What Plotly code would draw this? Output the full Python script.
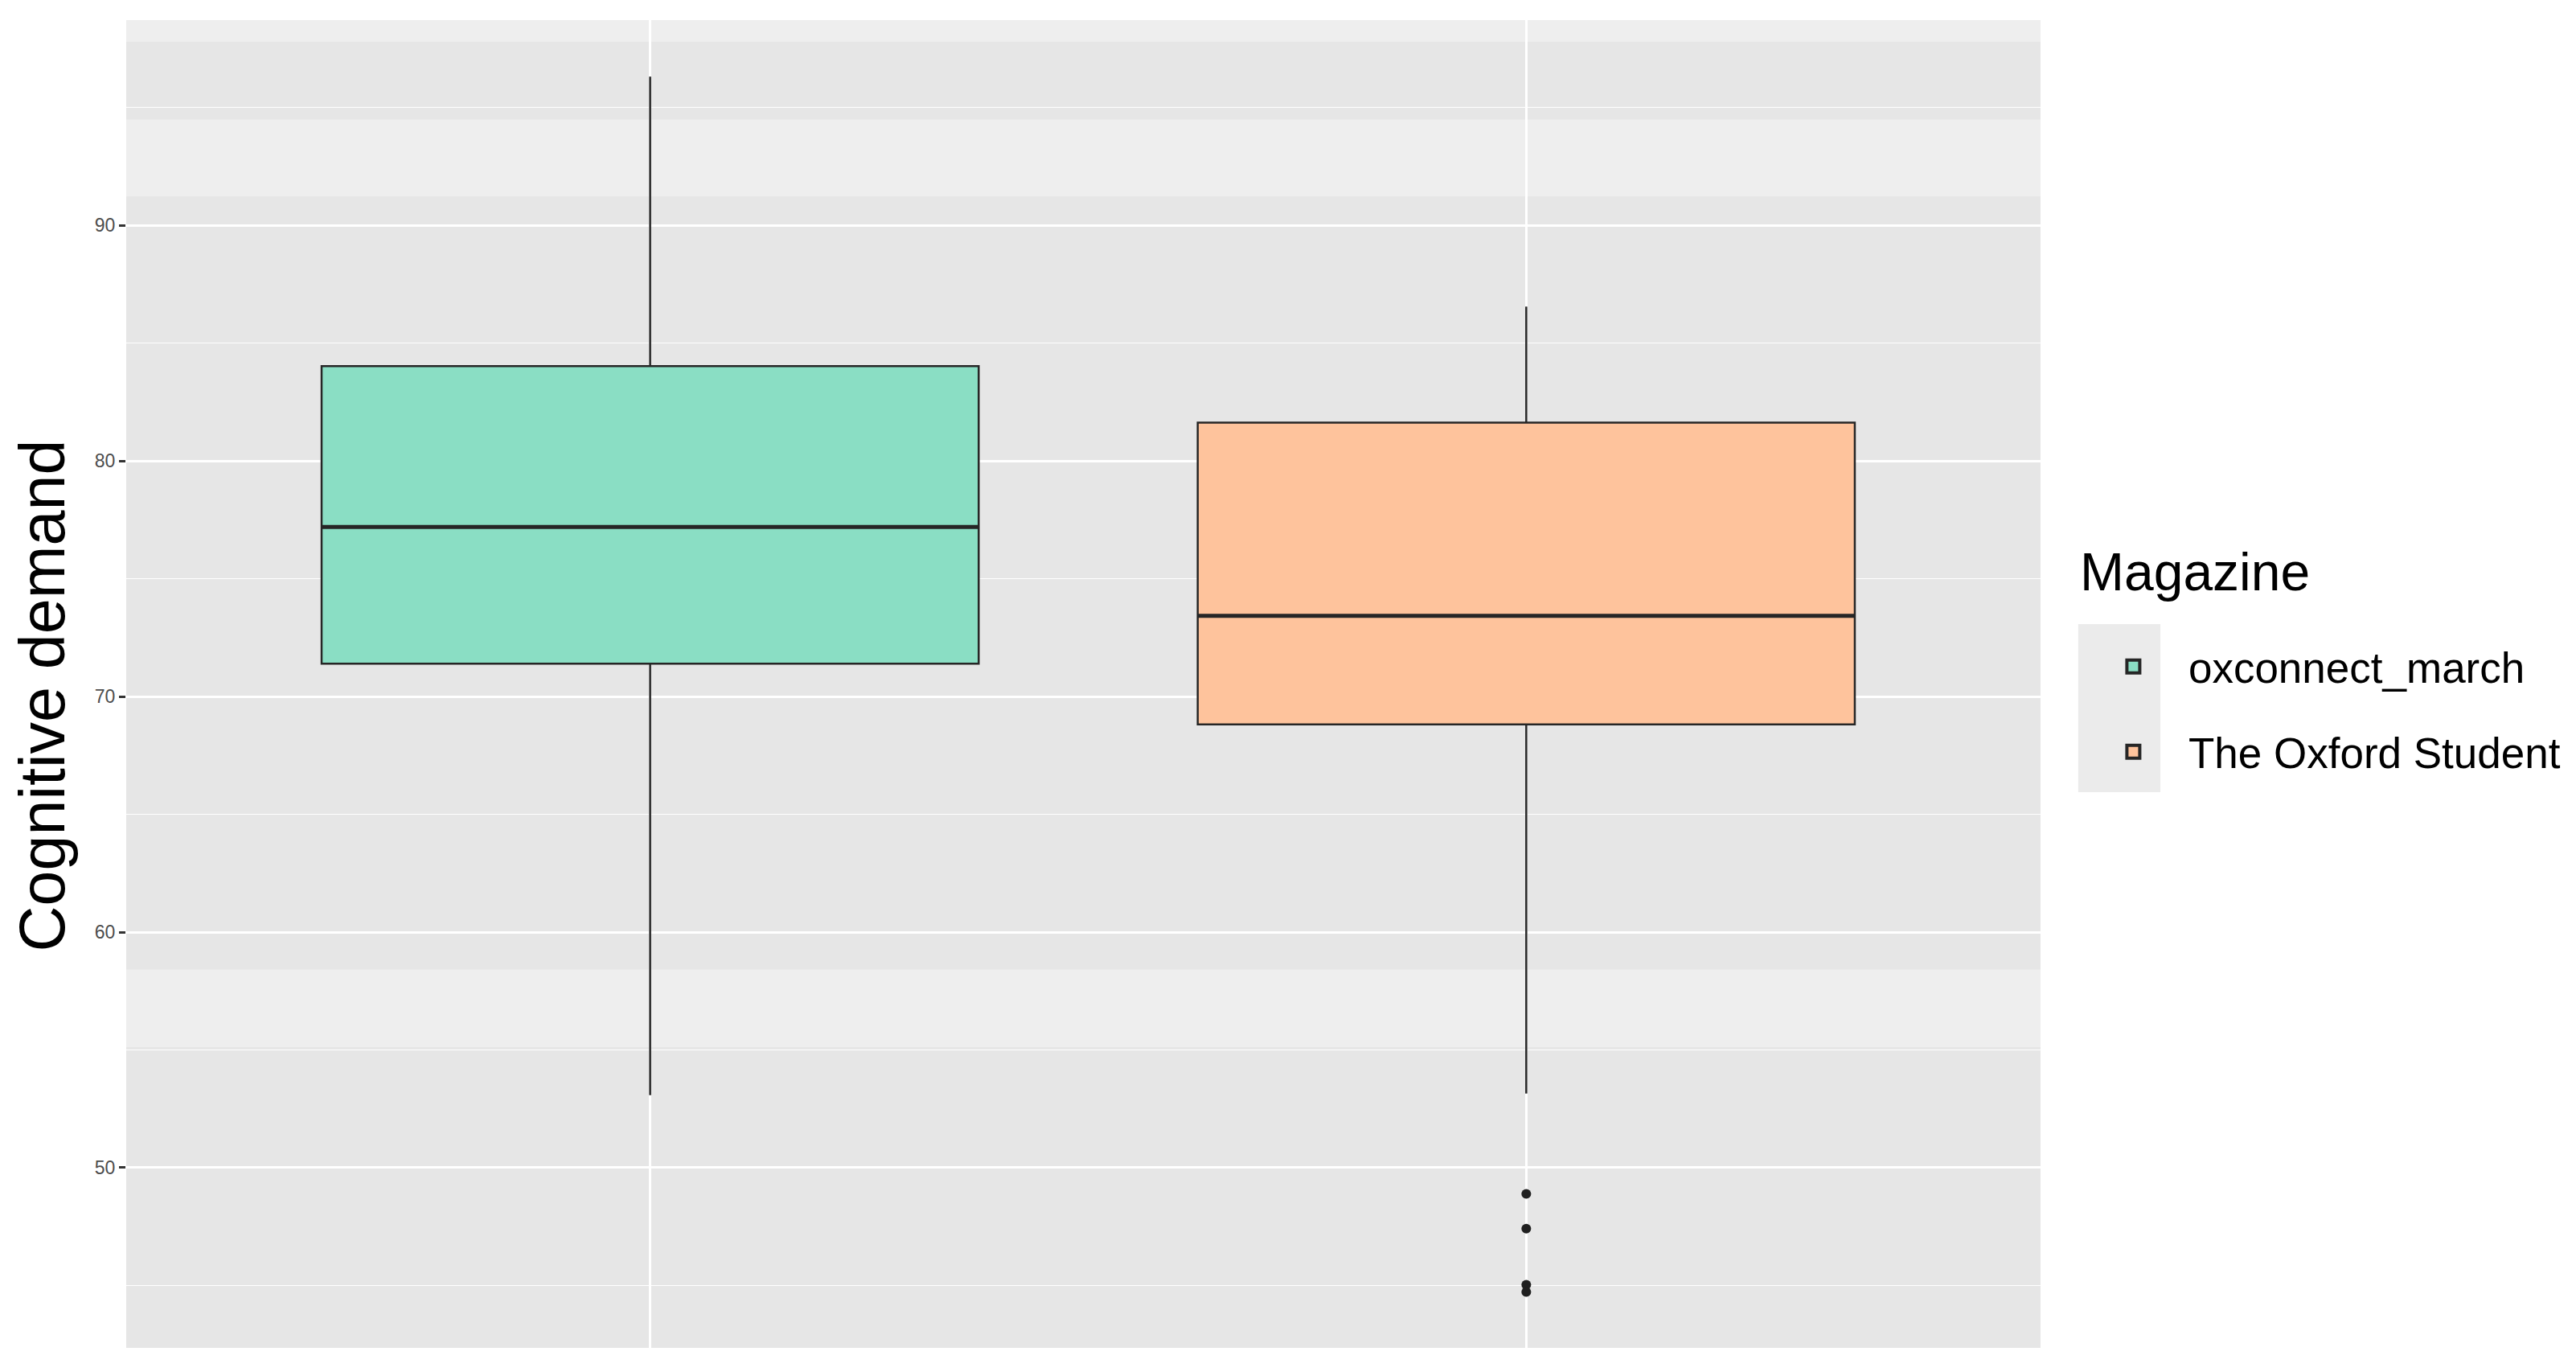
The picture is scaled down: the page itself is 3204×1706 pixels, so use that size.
import plotly.graph_objects as go

# box summary values
magazines = ["oxconnect_march", "The Oxford Student"]
fills = ["#8ADEC4", "#FEC39C"]
lower_whisker = [53.08, 53.15]
q1 = [71.40, 68.82]
median = [77.20, 73.43]
q3 = [84.03, 81.63]
upper_whisker = [96.32, 86.56]

# outliers (The Oxford Student only)
outlier_group = ["The Oxford Student"] * 4
outlier_vals = [48.89, 47.41, 45.03, 44.72]

# lighter highlighted bands in the panel
band_ranges = [(91.23, 94.5), (97.8, 98.8), (55.12, 58.41)]

FONT = "Liberation Sans, Arial, Helvetica, sans-serif"
EDGE = "#262626"

fig = go.Figure()
for i, name in enumerate(magazines):
    fig.add_trace(go.Box(
        x=[name], name=name, legendgroup=name, showlegend=False,
        q1=[q1[i]], median=[median[i]], q3=[q3[i]],
        lowerfence=[lower_whisker[i]], upperfence=[upper_whisker[i]],
        fillcolor=fills[i], line=dict(color=EDGE, width=2.5),
        width=0.75, whiskerwidth=0, boxpoints=False, hoverinfo="skip",
    ))
    # thicker median bar drawn as a flat box on top
    fig.add_trace(go.Box(
        x=[name], q1=[median[i]], median=[median[i]], q3=[median[i]],
        lowerfence=[median[i]], upperfence=[median[i]],
        fillcolor="rgba(0,0,0,0)", line=dict(color=EDGE, width=5),
        width=0.75, whiskerwidth=0, boxpoints=False,
        showlegend=False, hoverinfo="skip",
    ))
    # legend key (larger than plotly's default box icon)
    fig.add_trace(go.Scatter(
        x=[None], y=[None], mode="markers", name=name, legendgroup=name,
        marker=dict(symbol="square", size=34, color=fills[i],
                    line=dict(color=EDGE, width=4)),
    ))

fig.add_trace(go.Scatter(
    x=outlier_group, y=outlier_vals, mode="markers",
    marker=dict(color="#1f1f1f", size=12),
    showlegend=False, hoverinfo="skip",
))

for lo, hi in band_ranges:
    fig.add_hrect(y0=lo, y1=hi, fillcolor="#EEEEEE", line_width=0, layer="below")

# grey key background behind the legend symbols (ggplot style)
fig.add_shape(type="rect", xref="paper", yref="paper",
              x0=1.0197, x1=1.0626, y0=0.4185, y1=0.5451,
              fillcolor="#EBEBEB", line_width=0, layer="below")

# y axis title
fig.add_annotation(
    text="Cognitive demand", textangle=-90, showarrow=False,
    xref="paper", yref="paper", x=-0.0437, y=0.5, xanchor="center", yanchor="middle",
    yshift=-14, font=dict(size=79, color="black"),
)
# legend title
fig.add_annotation(
    text="Magazine", showarrow=False,
    xref="paper", yref="paper", x=1.0197, y=0.5845, xanchor="left", yanchor="middle",
    font=dict(size=66, color="black"),
)

fig.update_layout(
    width=3204, height=1706,
    margin=dict(l=149, r=674, t=17, b=38),
    paper_bgcolor="white", plot_bgcolor="#E6E6E6",
    boxmode="overlay",
    font=dict(family=FONT, color="black"),
    legend=dict(
        font=dict(size=53, color="black"), bgcolor="rgba(0,0,0,0)",
        x=1.0197, xanchor="left", y=0.481, yanchor="middle",
        tracegroupgap=34, itemwidth=127,
    ),
    showlegend=True,
)
fig.update_xaxes(
    type="category", categoryorder="array", categoryarray=magazines,
    range=[-0.598, 1.587], showticklabels=False, ticks="",
    showgrid=True, gridcolor="white", gridwidth=2.5, zeroline=False,
)
fig.update_yaxes(
    range=[42.35, 98.72], tickvals=[50, 60, 70, 80, 90],
    ticks="outside", ticklen=8, tickwidth=2.5, tickcolor="#333333",
    tickfont=dict(size=23, color="#4D4D4D"),
    showgrid=True, gridcolor="white", gridwidth=2.5, zeroline=False,
    minor=dict(tickvals=[45, 55, 65, 75, 85, 95], showgrid=True,
               gridcolor="white", gridwidth=1.2),
)

fig.write_html("out.html")
